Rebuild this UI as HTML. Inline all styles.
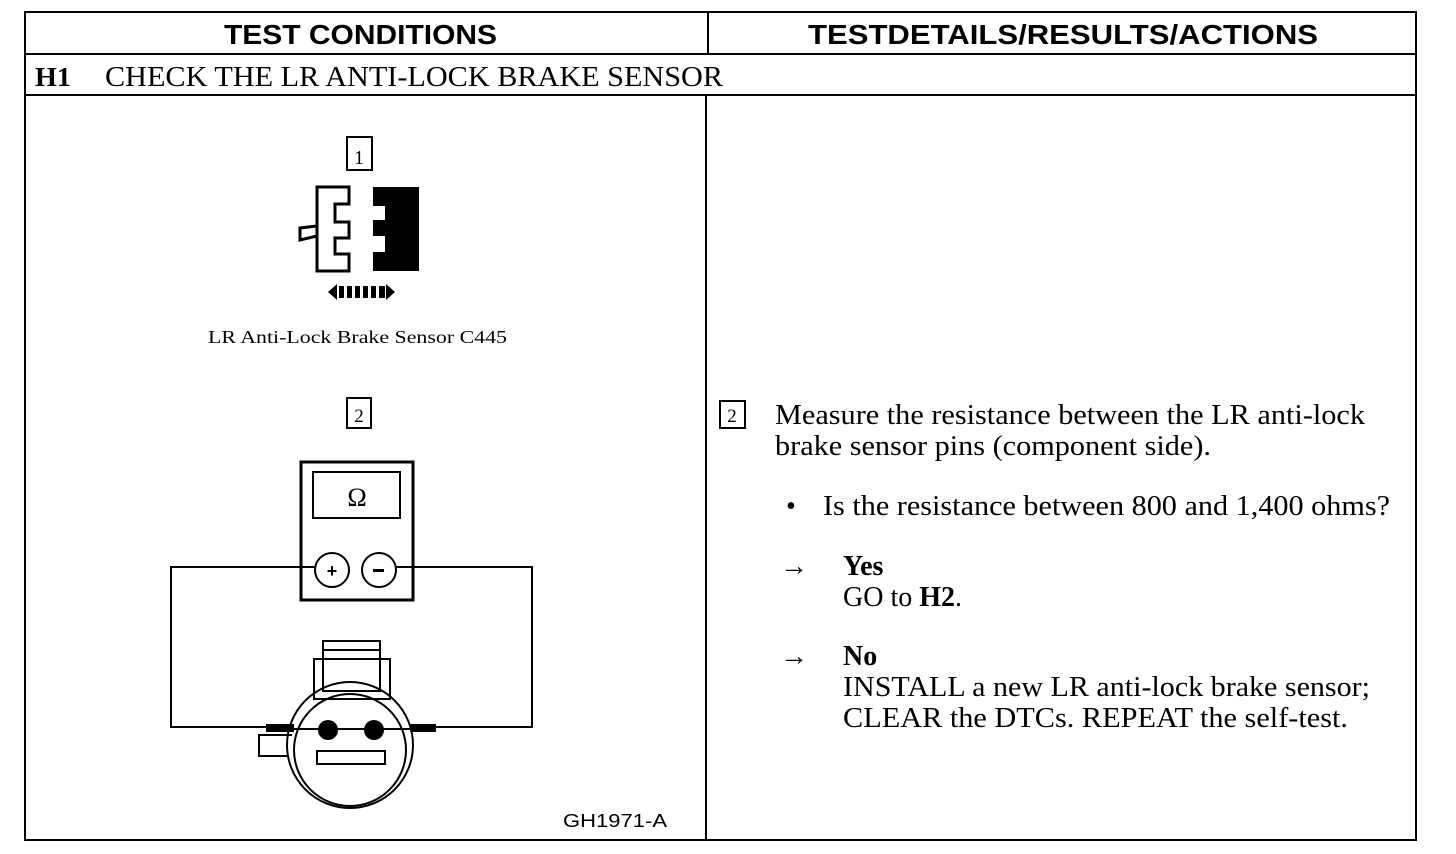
<!DOCTYPE html>
<html><head><meta charset="utf-8"><style>
body{margin:0;background:#fff;}
svg{display:block}
.s{font-family:"Liberation Serif",serif;fill:#000}
.h{font-family:"Liberation Sans",sans-serif;font-weight:bold;fill:#000}
</style></head><body>
<svg width="1456" height="854" viewBox="0 0 1456 854" xmlns="http://www.w3.org/2000/svg">
<g fill="none" stroke="#000" stroke-width="2">
<rect x="25" y="12" width="1391" height="828"/>
<line x1="25" y1="54" x2="1416" y2="54"/>
<line x1="25" y1="95" x2="1416" y2="95"/>
<line x1="708" y1="12" x2="708" y2="54"/>
<line x1="706" y1="95" x2="706" y2="840"/>
</g>
<text class="h" x="224" y="44" font-size="28" textLength="273" lengthAdjust="spacingAndGlyphs">TEST CONDITIONS</text>
<text class="h" x="808" y="44" font-size="28" textLength="510" lengthAdjust="spacingAndGlyphs">TESTDETAILS/RESULTS/ACTIONS</text>
<text class="s" x="35" y="86" font-size="27" font-weight="bold" textLength="36" lengthAdjust="spacingAndGlyphs">H1</text>
<text class="s" x="105" y="86" font-size="28" textLength="618" lengthAdjust="spacingAndGlyphs">CHECK THE LR ANTI-LOCK BRAKE SENSOR</text>

<!-- fig 1 -->
<g fill="none" stroke="#000" stroke-width="2">
<rect x="347" y="137" width="25" height="33"/>
<path d="M317,187 H349 V204 H335 V222 H349 V238 H335 V254 H349 V271 H317 Z" stroke-width="3"/>
<path d="M317,226 L300,228 V240 L317,236" stroke-width="3"/>
</g>
<text class="s" x="359" y="164" font-size="20" text-anchor="middle">1</text>
<path d="M373,187 H419 V271 H373 V252 H385 V236 H373 V220 H385 V206 H373 Z" fill="#000"/>
<path d="M328,292 L337,284 V300 Z M386,284 L395,292 L386,300 Z" fill="#000"/>
<g fill="#000"><rect x="339" y="286" width="5" height="12"/><rect x="347" y="286" width="5" height="12"/><rect x="355" y="286" width="5" height="12"/><rect x="363" y="286" width="5" height="12"/><rect x="371" y="286" width="5" height="12"/><rect x="379" y="286" width="6" height="12"/></g>
<text class="s" x="208" y="343" font-size="18" textLength="299" lengthAdjust="spacingAndGlyphs">LR Anti-Lock Brake Sensor C445</text>

<!-- fig 2 -->
<g fill="none" stroke="#000" stroke-width="2">
<rect x="347" y="398" width="24" height="30"/>
<rect x="301" y="462" width="112" height="138" stroke-width="3"/>
<rect x="313" y="472" width="87" height="46"/>
<circle cx="332" cy="570" r="17"/>
<circle cx="379" cy="570" r="17"/>
<path d="M315,567 H171 V727 H285"/>
<path d="M396,567 H532 V727 H430"/>
<rect x="323" y="641" width="57" height="50"/>
<line x1="323" y1="650" x2="380" y2="650"/>
<rect x="314" y="659" width="76" height="40"/>
<circle cx="350" cy="745" r="63"/>
<circle cx="350" cy="750" r="56"/>
<path d="M292,735 H259 V756 H287" />
<rect x="317" y="751" width="68" height="13"/>
<line x1="290" y1="729" x2="410" y2="729"/>
</g>
<text class="s" x="359" y="422" font-size="19" text-anchor="middle">2</text>
<text class="s" x="357" y="506" font-size="26" text-anchor="middle">Ω</text>
<text class="h" x="332" y="577" font-size="18" text-anchor="middle">+</text>
<rect x="373" y="569" width="11" height="3" fill="#000"/>
<circle cx="328" cy="730" r="10" fill="#000"/>
<circle cx="374" cy="730" r="10" fill="#000"/>
<rect x="266" y="724" width="28" height="8" fill="#000"/>
<rect x="410" y="724" width="26" height="8" fill="#000"/>
<text x="563" y="827" font-family="Liberation Sans,sans-serif" font-size="18" textLength="104" lengthAdjust="spacingAndGlyphs">GH1971-A</text>

<!-- right text -->
<rect x="720" y="401" width="25" height="27" fill="none" stroke="#000" stroke-width="2"/>
<text class="s" x="732" y="422" font-size="19" text-anchor="middle">2</text>
<g class="s" font-size="28">
<text x="775" y="424" textLength="590" lengthAdjust="spacingAndGlyphs">Measure the resistance between the LR anti-lock</text>
<text x="775" y="455" textLength="436" lengthAdjust="spacingAndGlyphs">brake sensor pins (component side).</text>
<text x="786" y="515">•</text>
<text x="823" y="515" textLength="567" lengthAdjust="spacingAndGlyphs">Is the resistance between 800 and 1,400 ohms?</text>
<text x="780" y="575">→</text>
<text x="843" y="575" font-weight="bold">Yes</text>
<text x="843" y="606">GO to <tspan font-weight="bold">H2</tspan>.</text>
<text x="780" y="665">→</text>
<text x="843" y="665" font-weight="bold">No</text>
<text x="843" y="696" textLength="527" lengthAdjust="spacingAndGlyphs">INSTALL a new LR anti-lock brake sensor;</text>
<text x="843" y="727" textLength="505" lengthAdjust="spacingAndGlyphs">CLEAR the DTCs. REPEAT the self-test.</text>
</g>
</svg>
</body></html>
